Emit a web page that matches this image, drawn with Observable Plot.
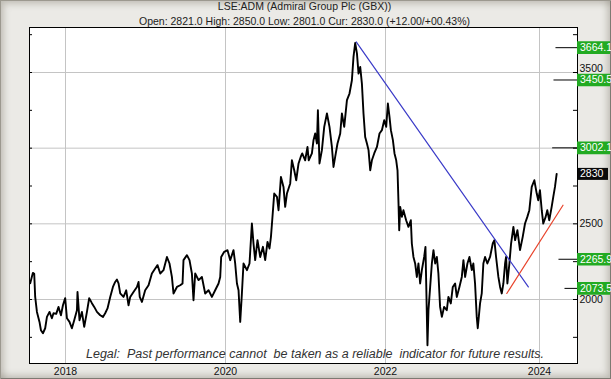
<!DOCTYPE html>
<html><head><meta charset="utf-8">
<script src="https://cdn.jsdelivr.net/npm/d3@7"></script>
<script src="https://cdn.jsdelivr.net/npm/@observablehq/plot@0.6"></script>
<style>
html,body{margin:0;padding:0;background:#e9e8e3;}
#wrap{position:relative;width:611px;height:379px;overflow:hidden;background:#ebeae6;
  box-shadow: inset 1px 1px 0 #9c998f, inset -1px -1px 0 #7d7a72, inset 4px 4px 6px rgba(120,115,100,0.35), inset -4px -4px 6px rgba(120,115,100,0.35);
  font-family:"Liberation Sans",Arial,sans-serif;}
#chart{position:absolute;left:0;top:0;}
.t{position:absolute;left:0;width:609px;text-align:center;font-size:10.5px;line-height:12px;color:#222;white-space:nowrap;}
#legal{position:absolute;left:86px;top:347px;font-size:12.5px;line-height:14px;font-style:italic;color:#333;white-space:nowrap;}
</style></head>
<body>
<div id="wrap">
  <div id="chart"></div>
  <div class="t" id="title" style="top:0px">LSE:ADM (Admiral Group Plc (GBX))</div>
  <div class="t" id="sub" style="top:15px">Open: 2821.0 High: 2850.0 Low: 2801.0 Cur: 2830.0 (+12.00/+00.43%)</div>
  <div id="legal">Legal:&nbsp; Past performance cannot&nbsp; be taken as a reliable&nbsp; indicator for future results.</div>
</div>
<script>
// Price series (decimal year, GBX)
const dates = [2017.559,2017.592,2017.609,2017.621,2017.643,2017.675,2017.693,2017.718,2017.746,2017.768,2017.8,2017.83,2017.85,2017.884,2017.913,2017.943,2017.968,2017.996,
2018.018,2018.05,2018.08,2018.109,2018.143,2018.15,2018.175,2018.205,2018.234,2018.268,2018.296,2018.33,2018.359,2018.393,2018.434,2018.468,2018.496,2018.525,2018.559,2018.593,2018.621,2018.643,2018.663,2018.684,2018.725,2018.759,2018.788,2018.809,2018.85,2018.893,2018.913,2018.928,2018.955,2018.996,
2019.038,2019.08,2019.121,2019.15,2019.184,2019.225,2019.268,2019.3,2019.33,2019.35,2019.393,2019.434,2019.463,2019.475,2019.518,2019.55,2019.58,2019.6,2019.621,2019.663,2019.705,2019.746,2019.788,2019.83,2019.871,2019.913,2019.934,2019.946,2019.984,
2020.025,2020.059,2020.1,2020.121,2020.143,2020.163,2020.184,2020.205,2020.225,2020.268,2020.3,2020.33,2020.35,2020.371,2020.4,2020.434,2020.468,2020.496,2020.525,2020.55,2020.568,2020.584,2020.609,2020.643,2020.663,2020.693,2020.725,2020.746,2020.768,2020.809,2020.83,2020.859,2020.884,2020.913,2020.94,2020.959,2020.996,
2021.025,2021.04,2021.08,2021.1,2021.121,2021.143,2021.155,2021.175,2021.205,2021.234,2021.268,2021.3,2021.33,2021.35,2021.371,2021.4,2021.434,2021.455,2021.484,2021.518,2021.55,2021.58,2021.6,2021.621,2021.643,2021.663,2021.684,2021.705,2021.725,2021.746,2021.768,2021.788,2021.809,2021.83,2021.859,2021.893,2021.925,2021.955,2021.984,
2022.009,2022.031,2022.052,2022.07,2022.096,2022.117,2022.139,2022.156,2022.169,2022.178,2022.191,2022.213,2022.233,2022.268,2022.298,2022.329,2022.342,2022.363,2022.385,2022.407,2022.428,2022.45,2022.472,2022.502,2022.519,2022.545,2022.558,2022.58,2022.602,2022.623,2022.645,2022.667,2022.687,2022.709,2022.732,2022.761,2022.796,2022.817,2022.848,2022.874,2022.904,2022.926,2022.96,2022.991,
2023.012,2023.034,2023.064,2023.09,2023.121,2023.141,2023.163,2023.185,2023.198,2023.228,2023.25,2023.271,2023.293,2023.323,2023.358,2023.393,2023.414,2023.436,2023.466,2023.488,2023.51,2023.531,2023.553,2023.566,2023.583,2023.609,2023.631,2023.661,2023.683,2023.713,2023.747,2023.782,2023.812,2023.842,2023.868,2023.899,2023.933,2023.964,2023.984,
2024.006,2024.029,2024.049,2024.08,2024.101,2024.127,2024.158,2024.179,2024.201,2024.223];
const prices = [2108,2176,2170,2017,1918,1852,1797,1777,1810,1885,1918,1876,1909,1905,1951,1896,1962,2009,
1876,1852,1810,1863,1929,2050,1863,1918,1819,1918,2009,1976,1951,1918,1896,1885,1909,1941,2017,2083,2116,2132,2106,2040,2017,2061,1962,2017,2050,2083,2116,2017,1984,2061,
2094,2172,2205,2227,2172,2194,2281,2238,2149,2040,2083,2094,2106,2260,2293,2260,2172,1995,2172,2128,2149,2040,2061,2017,2061,2106,2149,2281,2315,
2326,2260,2326,2238,2106,2061,1852,2040,2238,2194,2238,2502,2370,2260,2392,2281,2348,2260,2381,2337,2414,2524,2700,2678,2590,2810,2744,2612,2700,2767,2920,2854,2788,2899,2942,2965,2920,
3008,2920,2965,3053,3097,3031,3251,2899,2987,3141,3229,3141,3008,2876,2942,3031,3097,3229,3141,3317,3361,3449,3603,3695,3626,3493,3537,3427,3229,3074,3031,2987,2854,2920,2965,3008,3097,3119,3185,
3141,3295,3207,3119,3053,2965,2920,2854,2634,2458,2612,2546,2590,2524,2480,2524,2370,2281,2238,2149,2238,2106,2194,2281,2348,1698,1929,2083,2238,2326,2238,2281,2172,1951,1885,1951,1929,2017,1974,2083,2106,2017,2083,2149,
2260,2149,2238,2281,2194,2238,2106,1885,1810,1974,2040,2238,2281,2238,2281,2370,2392,2281,2149,2083,2040,2106,2238,2281,2106,2238,2370,2480,2392,2458,2326,2414,2502,2546,2590,2744,2788,2700,2656,
2722,2590,2502,2546,2590,2524,2612,2678,2744,2830];

// Trend lines
const blueDates = [2021.634, 2023.855];
const bluePrices = [3702, 2083];
const redDates = [2023.575, 2024.305];
const redPrices = [2040, 2623];

// Level markers on the right
const levels = [3664.1, 3450.5, 3002.1, 2265.9, 2073.5];
const levelLabels = ["3664.1", "3450.5", "3002.1", "2265.9", "2073.5"];
const levelStarts = [2024.214, 2024.188, 2024.171, 2024.253, 2024.331];
const current = 2830;
const currentLabel = "2830";

// Axes
const xTicks = [2018, 2020, 2022, 2024];
const xTickLabels = ["2018", "2020", "2022", "2024"];
const yTicks = [2000, 2500, 3000, 3500];
const yLabelTicks = [2000, 2500, 3500];       // 3000 is hidden behind the 3002.1 marker
const yLabelText = ["2000", "2500", "3500"];
const yLabelShift = [0, 0, -4];               // 3500 nudged up above the 3450.5 marker
const yMinor = [1750, 2000, 2250, 2500, 2750, 3000, 3250, 3500, 3750];

const xMin = 2017.55, xMax = 2024.4935;
const series = dates.map((d, i) => ({x: d, y: prices[i]}));
const blue = blueDates.map((d, i) => ({x: d, y: bluePrices[i]}));
const red = redDates.map((d, i) => ({x: d, y: redPrices[i]}));
const lv = levels.map((v, i) => ({v, label: levelLabels[i], start: levelStarts[i]}));
const yl = yLabelTicks.map((v, i) => ({v, label: yLabelText[i], dy: yLabelShift[i]}));

const font = "Liberation Sans, Arial, sans-serif";
const chart = Plot.plot({
  width: 611, height: 379,
  marginLeft: 29, marginRight: 34, marginTop: 27, marginBottom: 16,
  style: {fontFamily: font, fontSize: "10.5px", color: "#111", background: "transparent", overflow: "visible"},
  x: {type: "linear", domain: [xMin, 2018, 2022, 2024, xMax], range: [29, 65, 385, 539, 577],
      ticks: xTicks, tickSize: 0, tickPadding: 4, tickFormat: d => xTickLabels[xTicks.indexOf(d)], label: null},
  y: {domain: [1577.1, 3797.4], axis: null},
  marks: [
    Plot.frame({fill: "white", stroke: "none"}),
    Plot.ruleX(xTicks, {stroke: "#c4c4c4"}),
    Plot.ruleY(yTicks, {stroke: "#c4c4c4"}),
    Plot.ruleY(yMinor, {y: d => d, x1: xMin, x2: xMin + 3/80, stroke: "black"}),
    Plot.ruleY(yMinor, {y: d => d, x1: xMax - 4/77, x2: xMax, stroke: "black"}),
    Plot.line(series, {x: "x", y: "y", stroke: "black", strokeWidth: 1.9}),
    Plot.line(blue, {x: "x", y: "y", stroke: "#3b3bc8", strokeWidth: 1.2}),
    Plot.line(red, {x: "x", y: "y", stroke: "#e8442c", strokeWidth: 1.2}),
    Plot.ruleY(lv, {y: "v", x1: "start", x2: xMax, stroke: "black"}),
    Plot.frame({stroke: "black"}),
    Plot.text(yl.filter(d => d.dy === 0), {x: () => xMax, y: "v", text: "label", textAnchor: "start", dx: 2, fill: "#111"}),
    Plot.text(yl.filter(d => d.dy !== 0), {x: () => xMax, y: "v", text: "label", textAnchor: "start", dx: 2, dy: -4, fill: "#111"}),
    Plot.ruleY(lv, {y: "v", x1: xMax, x2: xMax + 33/77, stroke: "#22aa22", strokeWidth: 12.6}),
    Plot.ruleY([current], {y: d => d, x1: xMax + 1/77, x2: xMax + 31/77, stroke: "#0a0a0a", strokeWidth: 12}),
    Plot.text(lv, {x: () => xMax, y: "v", text: "label", textAnchor: "start", dx: 2.5, fill: "white"}),
    Plot.text([current], {x: () => xMax, y: d => d, text: () => currentLabel, textAnchor: "start", dx: 2.5, fill: "white"})
  ]
});
document.getElementById("chart").appendChild(chart);
</script>
</body></html>
